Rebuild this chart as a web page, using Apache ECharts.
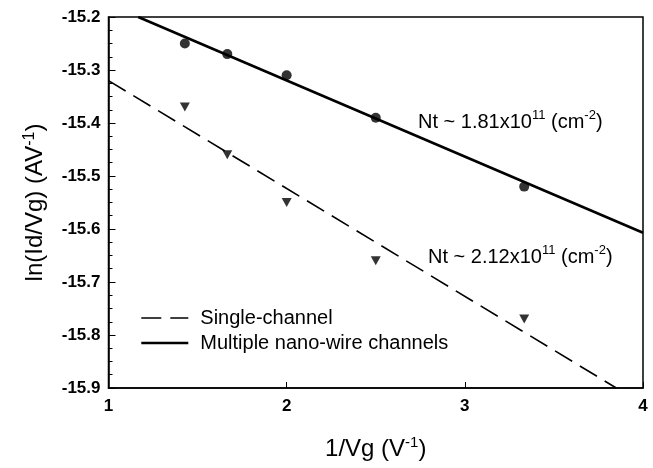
<!DOCTYPE html>
<html>
<head>
<meta charset="utf-8">
<script src="https://cdn.jsdelivr.net/npm/echarts@6/dist/echarts.min.js"></script>
<style>
html,body{margin:0;padding:0;background:#fff;}
#c{width:653px;height:468px;}
</style>
</head>
<body>
<div id="c"></div>
<script>
// Measured points
const xVals = [1.4286, 1.6667, 2.0, 2.5, 3.3333];
const multiY = [-15.25, -15.27, -15.31, -15.39, -15.52];
const singleY = [-15.37, -15.46, -15.55, -15.66, -15.77];
// Fit lines (endpoints)
const multiFitX = [1.167, 4.0];
const multiFitY = [-15.2, -15.607];
const singleFitX = [1.0, 3.85];
const singleFitY = [-15.32, -15.9];
// Axis ticks
const xTicks = [1, 2, 3, 4];
const yTicks = [-15.9, -15.8, -15.7, -15.6, -15.5, -15.4, -15.3, -15.2];
const legendNames = ['Single-channel', 'Multiple nano-wire channels'];

const pair = (xs, ys) => xs.map((x, i) => [x, ys[i]]);
const FONT = 'Liberation Sans, Arial, sans-serif';
const DASH = [20, 9];

const chart = echarts.init(document.getElementById('c'), null, {renderer: 'canvas'});
chart.setOption({
  animation: false,
  backgroundColor: '#fff',
  color: ['#000', '#000', '#000', '#000'],
  grid: {left: 108.5, right: 10, top: 17, bottom: 79, show: true, borderColor: '#000', borderWidth: 1.5},
  xAxis: {
    type: 'value', min: xTicks[0], max: xTicks[xTicks.length - 1], interval: 1,
    axisLine: {lineStyle: {color: '#000', width: 1.5}},
    axisTick: {inside: true, length: 6, lineStyle: {color: '#000'}},
    minorTick: {show: false},
    splitLine: {show: false},
    axisLabel: {color: '#000', fontSize: 17, fontWeight: 'bold', fontFamily: FONT, margin: 10},
    name: '1/Vg (V{sup|-1})',
    nameLocation: 'middle', nameGap: 47,
    nameTextStyle: {color: '#000', fontSize: 24, fontFamily: FONT, lineHeight: 28,
      rich: {sup: {fontSize: 15, verticalAlign: 'top', lineHeight: 15, fontFamily: FONT, color: '#000'}}}
  },
  yAxis: {
    type: 'value', min: yTicks[0], max: yTicks[yTicks.length - 1], interval: 0.1,
    axisLine: {lineStyle: {color: '#000', width: 1.5}},
    axisTick: {inside: true, length: 7, lineStyle: {color: '#000'}},
    minorTick: {show: true, splitNumber: 4, length: 4, lineStyle: {color: '#000'}},
    splitLine: {show: false},
    axisLabel: {color: '#000', fontSize: 17, fontWeight: 'bold', fontFamily: FONT, margin: 8,
      formatter: v => v.toFixed(1)},
    name: 'ln(Id/Vg) (AV{sup|-1})',
    nameLocation: 'middle', nameGap: 59, nameRotate: 90,
    nameTextStyle: {color: '#000', fontSize: 24, fontFamily: FONT, lineHeight: 28,
      rich: {sup: {fontSize: 16, verticalAlign: 'top', lineHeight: 16, fontFamily: FONT, color: '#000'}}}
  },
  legend: {
    orient: 'vertical', left: 140, top: 308, padding: 0, itemWidth: 47, itemHeight: 12, itemGap: 5,
    textStyle: {color: '#000', fontSize: 20, fontFamily: FONT, lineHeight: 20, padding: [0, 0, 0, 7]},
    data: [
      {name: legendNames[0], itemStyle: {opacity: 0},
        lineStyle: {color: '#000', width: 1.6, type: DASH}},
      {name: legendNames[1], itemStyle: {opacity: 0},
        lineStyle: {color: '#000', width: 2.6, type: 'solid'}}
    ]
  },
  series: [
    {
      name: legendNames[0], type: 'line', data: pair(singleFitX, singleFitY),
      showSymbol: false, symbol: 'none', clip: true,
      itemStyle: {color: '#000'},
      lineStyle: {color: '#000', width: 1.6, type: DASH}
    },
    {
      name: legendNames[1], type: 'line', data: pair(multiFitX, multiFitY),
      showSymbol: false, symbol: 'none', clip: true,
      itemStyle: {color: '#000'},
      lineStyle: {color: '#000', width: 2.6}
    },
    {
      name: 'multi points', type: 'scatter', data: pair(xVals, multiY),
      symbol: 'circle', symbolSize: 10, itemStyle: {color: '#000'}
    },
    {
      name: 'single points', type: 'scatter', data: pair(xVals, singleY),
      symbol: 'triangle', symbolRotate: 180, symbolSize: [10, 9], itemStyle: {color: '#000'}
    }
  ],
  graphic: [
    {
      type: 'text', left: 418, top: 109,
      style: {
        text: 'Nt ~ 1.81x10{sup|11} (cm{sup|-2})',
        fill: '#000', fontSize: 20, fontFamily: FONT, lineHeight: 26,
        rich: {sup: {fontSize: 13, verticalAlign: 'top', lineHeight: 13, fill: '#000', fontFamily: FONT}}
      }
    },
    {
      type: 'text', left: 428, top: 244,
      style: {
        text: 'Nt ~ 2.12x10{sup|11} (cm{sup|-2})',
        fill: '#000', fontSize: 20, fontFamily: FONT, lineHeight: 26,
        rich: {sup: {fontSize: 13, verticalAlign: 'top', lineHeight: 13, fill: '#000', fontFamily: FONT}}
      }
    }
  ]
});
</script>
</body>
</html>
